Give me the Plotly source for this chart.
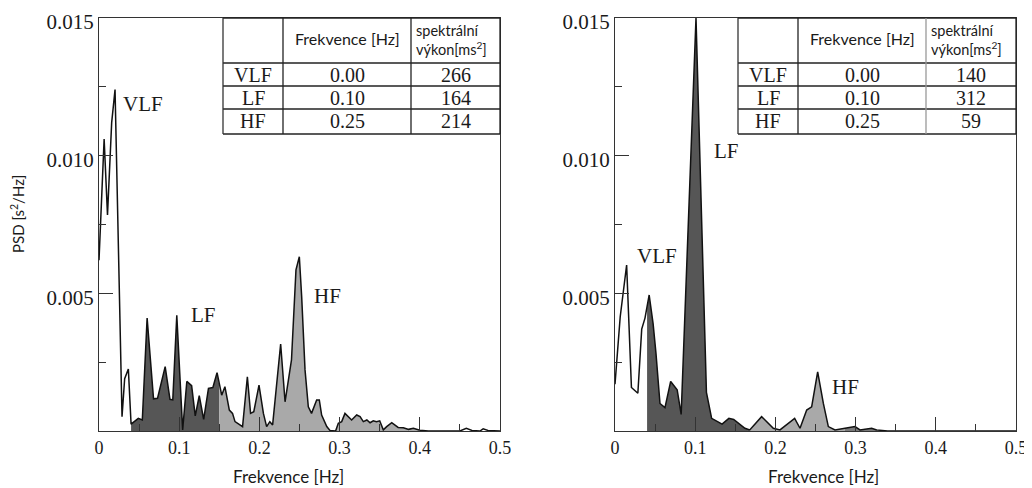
import numpy as np
import plotly.graph_objects as go

# ---------------- data ----------------
# left spectrum: frequency [Hz] and PSD [1e-3 s^2/Hz]
freq_left = [0.000, 0.0035, 0.0064, 0.0106, 0.0158, 0.0200, 0.0287, 0.0320, 0.0366, 0.0400,
             0.0435, 0.0490, 0.0540, 0.0600, 0.0680, 0.0730, 0.0825, 0.0885, 0.0920, 0.0970,
             0.1043, 0.1095, 0.1155, 0.1200, 0.1250, 0.1305, 0.1365, 0.1420, 0.1472, 0.1500,
             0.1530, 0.1570, 0.1625, 0.1665, 0.1696, 0.1790, 0.1850, 0.1890, 0.1930, 0.1995,
             0.2050, 0.2090, 0.2130, 0.2165, 0.2215, 0.2265, 0.2320, 0.2400, 0.2456, 0.2498,
             0.2527, 0.2569, 0.2610, 0.2650, 0.2714, 0.2747, 0.2776, 0.2840, 0.2880, 0.2950,
             0.2984, 0.3026, 0.3067, 0.3110, 0.3150, 0.3213, 0.3255, 0.3296, 0.3340, 0.3380,
             0.3420, 0.3460, 0.3500, 0.3545, 0.3587, 0.3650, 0.3690, 0.3730, 0.3795, 0.3860,
             0.3920, 0.3980, 0.4000, 0.4107, 0.4500, 0.4580, 0.4650, 0.4750, 0.4790, 0.4850,
             0.5000]
psd_left = [6.2, 9.0, 10.6, 7.85, 11.2, 12.4, 0.52, 1.9, 2.25, 0.25,
            0.34, 0.46, 0.40, 4.1, 1.17, 1.19, 2.34, 1.15, 1.13, 4.2,
            0.04, 1.8, 1.65, 0.55, 1.28, 0.42, 1.55, 1.58, 2.12, 1.65,
            1.3, 1.61, 0.76, 0.64, 0.34, 0.16, 1.97, 0.64, 0.7, 1.67,
            0.64, 0.16, 0.34, 0.22, 1.61, 3.16, 1.06, 2.58, 5.85, 6.33,
            4.88, 2.22, 0.88, 0.64, 1.13, 1.13, 0.58, 0.16, 0.02, 0.0,
            0.28, 0.34, 0.64, 0.52, 0.4, 0.58, 0.52, 0.34, 0.4, 0.3,
            0.37, 0.34, 0.37, 0.04, 0.16, 0.3, 0.22, 0.13, 0.12, 0.06,
            0.1, 0.06, 0.03, 0.0, 0.0, 0.1, 0.02, 0.0, 0.08, 0.02,
            0.0]

# right spectrum
freq_right = [0.000, 0.0065, 0.0145, 0.0205, 0.0285, 0.0333, 0.0374, 0.0400, 0.0426, 0.0475,
              0.0511, 0.0561, 0.0623, 0.0694, 0.0775, 0.0825, 0.1010, 0.1140, 0.1205, 0.1335,
              0.1420, 0.1480, 0.1560, 0.1620, 0.1680, 0.1828, 0.1974, 0.2057, 0.2240, 0.2307,
              0.2390, 0.2452, 0.2527, 0.2598, 0.2660, 0.2743, 0.2868, 0.2992, 0.3055, 0.3138,
              0.3200, 0.3263, 0.3400, 0.5000]
psd_right = [1.7, 4.15, 6.03, 1.58, 1.37, 3.7, 4.1, 4.5, 4.94, 3.9,
             2.82, 1.0, 0.85, 1.8, 1.5, 0.6, 15.0, 1.4, 0.46, 0.25,
             0.46, 0.42, 0.22, 0.1, 0.04, 0.52, 0.1, 0.04, 0.46, 0.1,
             0.76, 0.88, 2.15, 1.0, 0.16, 0.04, 0.1, 0.16, 0.04, 0.06,
             0.1, 0.04, 0.0, 0.0]

# frequency bands (lo, hi, fill colour)
bands_left = [(0.04, 0.15, "#565656"), (0.15, 0.40, "#a9a9a9")]
bands_right = [(0.04, 0.168, "#565656"), (0.168, 0.2868, "#a9a9a9"), (0.2868, 0.3263, "#7a7a7a")]

# peak labels (text, freq, psd*1e-3)
labels_left = [("VLF", 0.0549, 11.88), ("LF", 0.1297, 4.21), ("HF", 0.2843, 4.9)]
labels_right = [("VLF", 0.0524, 6.36), ("LF", 0.1384, 10.17), ("HF", 0.288, 1.6)]

# tables
table_rows = ["VLF", "LF", "HF"]
table_freq = ["0.00", "0.10", "0.25"]
power_left = [266, 164, 214]
power_right = [140, 312, 59]

x_ticks = [0, 0.1, 0.2, 0.3, 0.4, 0.5]
x_ticktext = ["0", "0.1", "0.2", "0.3", "0.4", "0.5"]
y_ticks = [0.005, 0.010, 0.015]
y_ticktext = ["0.005", "0.010", "0.015"]

assert len(freq_left) == len(psd_left)
assert len(freq_right) == len(psd_right)

# ---------------- layout geometry (page pixels) ----------------
# the page body has an 8px margin, so the figure starts at (8, 8) on the page
OFF = 8
W, H = 1032 - OFF, 488 - OFF
ML, MT = 99 - OFF, 18 - OFF
MR = W - (1016 - OFF)
MB = H - (431 - OFF)
PW, PH = W - ML - MR, H - MT - MB


def px(x):
    return (x - OFF - ML) / PW


def py(y):
    return (H - MB - (y - OFF)) / PH


SERIF = "Liberation Serif"
SANS = "Lato"
INK = "#1a1a1a"

fig = go.Figure()


def add_spectrum(freq, psd, bands, xa, ya):
    f = np.array(freq)
    p = np.array(psd) * 1e-3
    for lo, hi, col in bands:
        m = (f >= lo - 1e-9) & (f <= hi + 1e-9)
        fig.add_trace(go.Scatter(x=f[m], y=p[m], mode="lines", fill="tozeroy",
                                 fillcolor=col, line=dict(width=0, color=col),
                                 xaxis=xa, yaxis=ya, showlegend=False, hoverinfo="skip"))
    fig.add_trace(go.Scatter(x=f, y=p, mode="lines", line=dict(color="#111111", width=1.5),
                             xaxis=xa, yaxis=ya, showlegend=False))


add_spectrum(freq_left, psd_left, bands_left, "x", "y")
add_spectrum(freq_right, psd_right, bands_right, "x2", "y2")

axis_common = dict(showline=True, mirror=True, linecolor="#333333", linewidth=1,
                   showgrid=False, zeroline=False, ticks="inside", ticklen=14,
                   tickcolor="#333333", tickwidth=1, automargin=False,
                   ticklabeloverflow="allow")

xa = dict(axis_common, range=[0, 0.5], tickvals=x_ticks, ticktext=x_ticktext,
          tickfont=dict(family=SERIF, size=18, color=INK),
          minor=dict(ticks="inside", ticklen=7, dtick=0.05, tick0=0, tickcolor="#333333"))
ya = dict(axis_common, range=[0, 0.015], tickvals=y_ticks, ticktext=y_ticktext,
          tickfont=dict(family=SERIF, size=21, color=INK), ticklabelshift=4,
          minor=dict(ticks="inside", ticklen=7, dtick=0.0025, tick0=0, tickcolor="#333333"))

fig.update_layout(
    width=W, height=H, autosize=False,
    margin=dict(l=ML, r=MR, t=MT, b=MB, pad=0),
    paper_bgcolor="white", plot_bgcolor="white",
    xaxis=dict(xa, domain=[0, px(500)], anchor="y"),
    yaxis=dict(ya, domain=[0, 1], anchor="x"),
    xaxis2=dict(xa, domain=[px(615), 1], anchor="y2"),
    yaxis2=dict(ya, domain=[0, 1], anchor="x2"),
)

annotations = []
shapes = []


def note(x, y, text, font, xref="paper", yref="paper", **kw):
    d = dict(x=x, y=y, xref=xref, yref=yref, text=text, showarrow=False, font=font,
             xanchor="center", yanchor="middle")
    d.update(kw)
    annotations.append(d)


# peak labels
for (lab, lf, lp) in labels_left:
    note(lf, lp * 1e-3, lab, dict(family=SERIF, size=21, color=INK), "x", "y")
for (lab, lf, lp) in labels_right:
    note(lf, lp * 1e-3, lab, dict(family=SERIF, size=21, color=INK), "x2", "y2")

# axis titles
for cx in (288, 823):
    note(px(cx), py(476), "Frekvence [Hz]", dict(family=SANS, size=17, color=INK))
note(px(18), py(214), "PSD [s<sup>2</sup>/Hz]", dict(family=SANS, size=15, color=INK),
     textangle=-90)


# tables
def add_table(x0, c1, c2, x1, powers, mid_color):
    rows_y = [18, 63, 86, 109, 134]
    shapes.append(dict(type="rect", xref="paper", yref="paper", x0=px(x0), x1=px(x1),
                       y0=py(134), y1=py(18), fillcolor="white", line=dict(width=0), layer="above"))
    for yy in rows_y:
        shapes.append(dict(type="line", xref="paper", yref="paper", x0=px(x0), x1=px(x1),
                           y0=py(yy), y1=py(yy), line=dict(color="#222222", width=1.3), layer="above"))
    for xx, col in ((x0, "#333333"), (c1, "#222222"), (c2, mid_color), (x1, "#222222")):
        shapes.append(dict(type="line", xref="paper", yref="paper", x0=px(xx), x1=px(xx),
                           y0=py(18), y1=py(134), line=dict(color=col, width=1.3), layer="above"))
    note(px((c1 + c2) / 2), py(39), "Frekvence [Hz]", dict(family=SANS, size=16, color=INK))
    note(px(c2 + 3), py(40), "spektrální<br>výkon[ms<sup>2</sup>]",
         dict(family=SANS, size=14.5, color=INK), xanchor="left", align="left")
    for i in range(3):
        cy = py((rows_y[i + 1] + rows_y[i + 2]) / 2)
        for cx, txt in (((x0 + c1) / 2, table_rows[i]), ((c1 + c2) / 2, table_freq[i]),
                        ((c2 + x1) / 2, str(powers[i]))):
            note(px(cx), cy, txt, dict(family=SERIF, size=20, color=INK))


add_table(223, 283, 411, 500, power_left, "#222222")
add_table(738, 798, 926, 1016, power_right, "#999999")

fig.update_layout(annotations=annotations, shapes=shapes)

fig.write_html("out.html")
